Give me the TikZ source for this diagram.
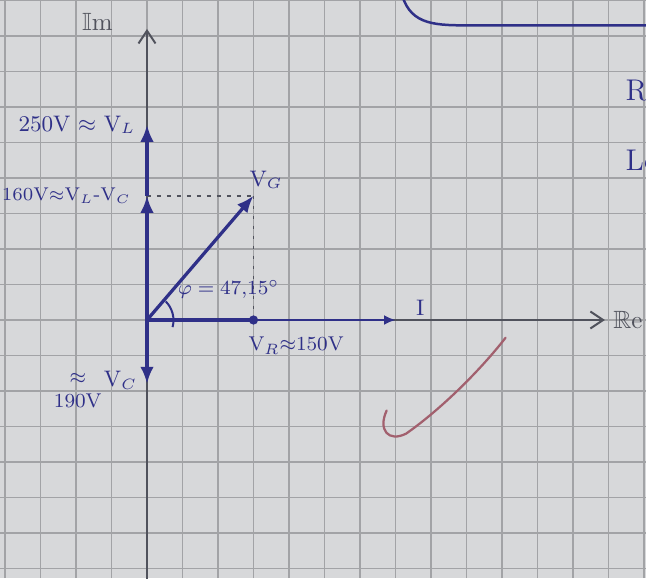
\documentclass[tikz,border=0pt]{standalone}
\usepackage{amssymb}
\usepackage{tikz}
\usetikzlibrary{arrows.meta}
\definecolor{PaperGray}{HTML}{D7D8DA}
\definecolor{GridGray}{HTML}{A2A3A6}
\definecolor{PencilGray}{HTML}{50525C}
\definecolor{InkBlue}{HTML}{2F3088}
\definecolor{TickRed}{HTML}{A2606E}

\begin{document}
\begin{tikzpicture}[x=5mm,y=5mm,>=Latex]
  \tikzset{phasor/.style={InkBlue, line width=1.3pt, -{Latex[length=2.4mm,width=1.9mm]}},
    axisline/.style={PencilGray, line width=0.8pt, -{Straight Barb[length=1.8mm,width=2.4mm]}},
    helpline/.style={PencilGray, line width=0.6pt, dash pattern=on 1.5pt off 2.5pt},
    inklabel/.style={text=InkBlue, inner sep=1pt, align=center, font=\small}}
  % paper and grid
  \fill[PaperGray] (-4.141,-7.268) rectangle (14.056,9.014);
  \useasboundingbox (-4.141,-7.268) rectangle (14.056,9.014);
  \draw[GridGray, line width=0.6pt, step=5mm] (-4.141,-7.268) grid (14.056,9.014);
  % points
  \coordinate (O) at (0,0);
  \coordinate (imlow) at (0,-7.5);
  \coordinate (imtop) at (0,8.2);
  \coordinate (retip) at (12.9,0);
  \coordinate (VL) at (0,5.5);
  \coordinate (VLC) at (0,3.5);
  \coordinate (VG) at (3.0,3.5);
  \coordinate (VR) at (3.0,0);
  \coordinate (I) at (7.0,0);
  \coordinate (VC) at (0,-1.8);
  % axes
  \draw[axisline] (imlow) -- (imtop);
  \draw[axisline] (O) -- (retip);
  \node[text=PencilGray] (im) at (-1.4,8.4) {$\mathbb{I}$m};
  \node[text=PencilGray, anchor=west, inner sep=1pt] (re) at (13.05,0) {$\mathbb{R}$e};
  % projections
  \draw[helpline] (VLC) -- (VG);
  \draw[helpline] (VG) -- (VR);
  % phasors
  \draw[phasor] (VLC) -- (VL);
  \draw[phasor] (O) -- (VLC);
  \draw[phasor] (O) -- (VG);
  \draw[phasor] (O) -- (VC);
  \draw[InkBlue, line width=1.3pt] (O) -- (VR);
  \fill[InkBlue] (VR) circle (0.13);
  \draw[InkBlue, line width=0.9pt, -{Latex[length=1.6mm,width=1.4mm]}] (VR) -- (I);
  \draw[InkBlue, line width=0.8pt] (0.72,-0.2) arc[start angle=-15, end angle=45, radius=0.75];
  % labels
  \node[inklabel, anchor=east] (lVL) at (-0.25,5.5) {250V $\approx$ V$_L$};
  \node[inklabel, anchor=east, inner sep=0pt, font=\fontsize{7.4}{9}\selectfont] (lVLC) at (-0.45,3.5) {160V$\approx$V$_L$-V$_C$};
  \node[inklabel] (lVG) at (3.35,3.95) {V$_G$};
  \node[inklabel, font=\footnotesize] (lphi) at (2.3,0.85) {$\varphi = 47{,}15^\circ$};
  \node[inklabel, font=\footnotesize] (lVR) at (4.2,-0.72) {V$_R$$\approx$150V};
  \node[inklabel] (lI) at (7.7,0.35) {I};
  \node[inklabel] (lVC) at (-0.75,-1.7) {V$_C$};
  \node[inklabel, font=\footnotesize] (lVCval) at (-1.95,-2.0) {$\approx$\\190V};
  % neighbouring notes at the edge
  \coordinate (boxa) at (7.15,9.3);
  \coordinate (boxb) at (14.3,8.3);
  \draw[InkBlue, line width=1pt] (boxa) .. controls (7.35,8.35) and (8.0,8.3) .. (9.0,8.3) -- (boxb);
  \node[inklabel, anchor=west, font=\large] (edgeR) at (13.4,6.45) {Re};
  \node[inklabel, anchor=west, font=\large] (edgeL) at (13.4,4.5) {Lo};
  % tick mark
  \coordinate (ticka) at (6.75,-2.55);
  \coordinate (tickb) at (10.1,-0.5);
  \draw[TickRed, line width=0.9pt, line cap=round] (ticka) .. controls (6.5,-3.1) and (6.8,-3.45) .. (7.3,-3.2) .. controls (8.3,-2.5) and (9.4,-1.4) .. (tickb);
\end{tikzpicture}
\end{document}
